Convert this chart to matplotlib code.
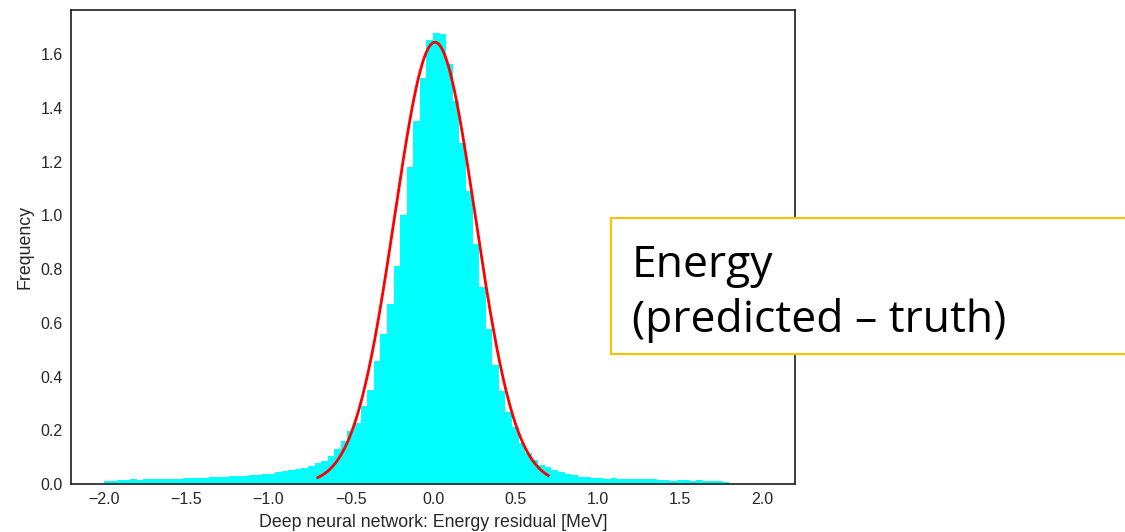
"""Histogram of DNN energy residuals with a Gaussian fit overlay."""

import numpy as np
import matplotlib
matplotlib.use("Agg")
import matplotlib.pyplot as plt
from matplotlib.patches import Rectangle

# bin layout: 0.04 MeV wide bins starting at -2.0
bin_start = -2.0
bin_width = 0.04

# normalised frequency per bin
freq_left_tail = [0.013, 0.013, 0.014, 0.016, 0.017, 0.016, 0.018, 0.019, 0.018,
                  0.019, 0.020, 0.020, 0.021, 0.022, 0.023, 0.024, 0.025,
                  0.026, 0.027, 0.028, 0.029, 0.030, 0.032, 0.034, 0.036, 0.039, 0.043]
freq_core = [0.048, 0.053, 0.056, 0.061, 0.068, 0.079, 0.087, 0.106, 0.129, 0.159,
             0.197, 0.228, 0.290, 0.350, 0.458, 0.558, 0.670, 0.812, 1.001, 1.181,
             1.351, 1.512, 1.652, 1.681, 1.677, 1.565, 1.425, 1.270, 1.091, 0.893,
             0.734, 0.576, 0.443, 0.347, 0.269, 0.213, 0.154, 0.114, 0.089, 0.071]
freq_right_tail = [0.062, 0.052, 0.045, 0.038, 0.032, 0.027, 0.025, 0.024, 0.021,
                   0.020, 0.022, 0.019, 0.019, 0.020, 0.018, 0.017, 0.019, 0.015,
                   0.014, 0.013, 0.015, 0.015, 0.013, 0.015, 0.011, 0.010, 0.010, 0.009]

# gaussian fit parameters
fit_amp = 1.645
fit_mu = 0.012
fit_sigma = 0.245
fit_range = (-0.7, 0.7)

x_ticks = [-2.0, -1.5, -1.0, -0.5, 0.0, 0.5, 1.0, 1.5, 2.0]
y_ticks = [0.0, 0.2, 0.4, 0.6, 0.8, 1.0, 1.2, 1.4, 1.6]


def main() -> None:
    freqs = np.array(freq_left_tail + freq_core + freq_right_tail)
    edges = bin_start + bin_width * np.arange(len(freqs) + 1)
    centers = 0.5 * (edges[:-1] + edges[1:])

    plt.rcParams['font.family'] = ['Liberation Sans', 'DejaVu Sans']

    fig = plt.figure(figsize=(11.25, 5.32), dpi=100)
    ax = fig.add_axes([0.0631, 0.0902, 0.6436, 0.891])

    ax.hist(centers, bins=edges, weights=freqs, color='#00FFFF', linewidth=0)

    xs = np.linspace(fit_range[0], fit_range[1], 300)
    ys = fit_amp * np.exp(-0.5 * ((xs - fit_mu) / fit_sigma) ** 2)
    ax.plot(xs, ys, color='red', linewidth=2)

    ax.set_xlim(-2.2, 2.2)
    ax.set_ylim(0, 1.765)
    ax.set_xticks(x_ticks)
    ax.set_yticks(y_ticks)
    ax.tick_params(length=0, labelsize=11.5, labelcolor='#262626', pad=6)
    for spine in ax.spines.values():
        spine.set_color('#262626')
        spine.set_linewidth(1.25)

    ax.set_xlabel("Deep neural network: Energy residual [MeV]", fontsize=12.8,
                  color='#262626', labelpad=5)
    ax.set_ylabel("Frequency", fontsize=12.8, color='#262626', labelpad=5)

    # overlay label box, cut off by the right edge of the figure
    box = Rectangle((611 / 1125, 1 - 354 / 532), 0.5, 136 / 532,
                    transform=fig.transFigure, facecolor='white',
                    edgecolor='#FFC000', linewidth=1.5, zorder=5)
    fig.add_artist(box)
    fig.text(632 / 1125, 1 - 293 / 532, "Energy\n(predicted \u2013 truth)",
             fontsize=32, family=['Open Sans', 'DejaVu Sans'], color='black',
             ha='left', va='center', linespacing=1.3, zorder=6)

    fig.savefig("out.png", dpi=100)


if __name__ == "__main__":
    main()
